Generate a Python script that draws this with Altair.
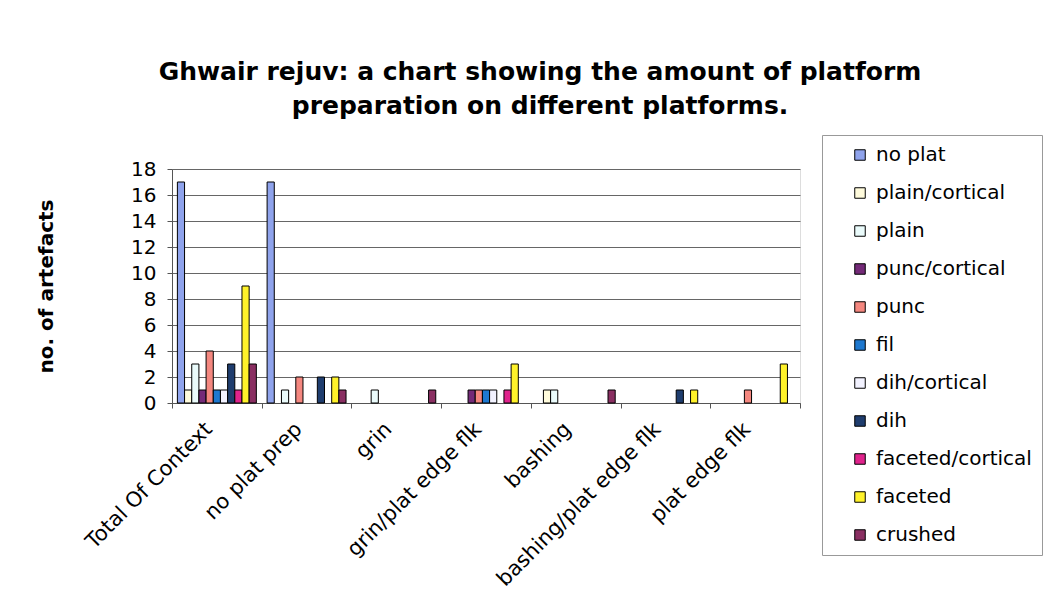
import altair as alt
import pandas as pd

# Platform categories along the x axis
categories = [
    "Total Of Context",
    "no plat prep",
    "grin",
    "grin/plat edge flk",
    "bashing",
    "bashing/plat edge flk",
    "plat edge flk",
]

# Platform-preparation series (legend order)
series = [
    "no plat",
    "plain/cortical",
    "plain",
    "punc/cortical",
    "punc",
    "fil",
    "dih/cortical",
    "dih",
    "faceted/cortical",
    "faceted",
    "crushed",
]

# Counts per series, one value per category
counts = {
    "no plat":          [17, 17, 0, 0, 0, 0, 0],
    "plain/cortical":   [1, 0, 0, 0, 1, 0, 0],
    "plain":            [3, 1, 1, 0, 1, 0, 0],
    "punc/cortical":    [1, 0, 0, 1, 0, 0, 0],
    "punc":             [4, 2, 0, 1, 0, 0, 1],
    "fil":              [1, 0, 0, 1, 0, 0, 0],
    "dih/cortical":     [1, 0, 0, 1, 0, 0, 0],
    "dih":              [3, 2, 0, 0, 0, 1, 0],
    "faceted/cortical": [1, 0, 0, 1, 0, 0, 0],
    "faceted":          [9, 2, 0, 3, 0, 1, 3],
    "crushed":          [3, 1, 1, 0, 1, 0, 0],
}

colors = [
    "#8FA3EC", "#FFFBDC", "#EAFBFB", "#742A78", "#F4877F", "#1E78CF",
    "#F2F2FF", "#1F3D6E", "#E0238C", "#FFF22A", "#8A2F62",
]

rows = []
for s in series:
    for c, v in zip(categories, counts[s]):
        if v > 0:
            rows.append({"category": c, "series": s, "count": v})
df = pd.DataFrame(rows)

font = "DejaVu Sans"

chart = (
    alt.Chart(df)
    .mark_bar(stroke="black", strokeWidth=1)
    .encode(
        x=alt.X(
            "category:N",
            sort=categories,
            scale=alt.Scale(domain=categories, paddingInner=0, paddingOuter=0),
            axis=alt.Axis(
                title=None,
                labelAngle=-45,
                labelFontSize=21,
                labelFont=font,
                labelColor="black",
                labelPadding=10,
                labelOffset=-16,
                tickBand="extent",
                tickSize=5,
                tickColor="#555",
                domainColor="#555",
                grid=False,
                labelLimit=400,
            ),
        ),
        xOffset=alt.XOffset(
            "series:N",
            sort=series,
            scale=alt.Scale(domain=series, paddingInner=0, paddingOuter=0.75),
        ),
        y=alt.Y(
            "count:Q",
            scale=alt.Scale(domain=[0, 18], nice=False),
            axis=alt.Axis(
                title="no. of artefacts",
                titleFontSize=20,
                titleFont=font,
                titleFontWeight="bold",
                titleColor="black",
                titleAngle=-90,
                titleAlign="center",
                titleBaseline="alphabetic",
                titleX=-120,
                titleY=117,
                values=list(range(0, 19, 2)),
                labelFontSize=20,
                labelFont=font,
                labelColor="black",
                labelPadding=11,
                tickSize=5,
                tickColor="#555",
                domainColor="#555",
                gridColor="#666",
                gridWidth=1,
            ),
        ),
        color=alt.Color(
            "series:N",
            sort=series,
            scale=alt.Scale(domain=series, range=colors),
            legend=alt.Legend(
                title=None,
                orient="none",
                legendX=650,
                legendY=-34,
                symbolType="square",
                symbolSize=110,
                symbolStrokeColor="black",
                symbolStrokeWidth=1,
                symbolOffset=18,
                labelFontSize=20,
                labelFont=font,
                labelColor="black",
                labelOffset=6,
                rowPadding=18,
                padding=10,
                strokeColor="#999",
                fillColor="white",
                labelLimit=300,
            ),
        ),
    )
    .properties(
        width=628,
        height=234,
        padding={"left": 172, "top": 169, "right": 258, "bottom": 188},
        autosize=alt.AutoSizeParams(type="none"),
        title=alt.TitleParams(
            text=[
                "Ghwair rejuv: a chart showing the amount of platform",
                "preparation on different platforms.",
            ],
            fontSize=25,
            font=font,
            fontWeight="bold",
            color="black",
            anchor="middle",
            dx=54,
            offset=16,
            lineHeight=34,
        ),
    )
    .configure_view(stroke="#888")
    .configure(background="white")
)

chart.save("out.html", embed_options={"renderer": "svg", "actions": False})
